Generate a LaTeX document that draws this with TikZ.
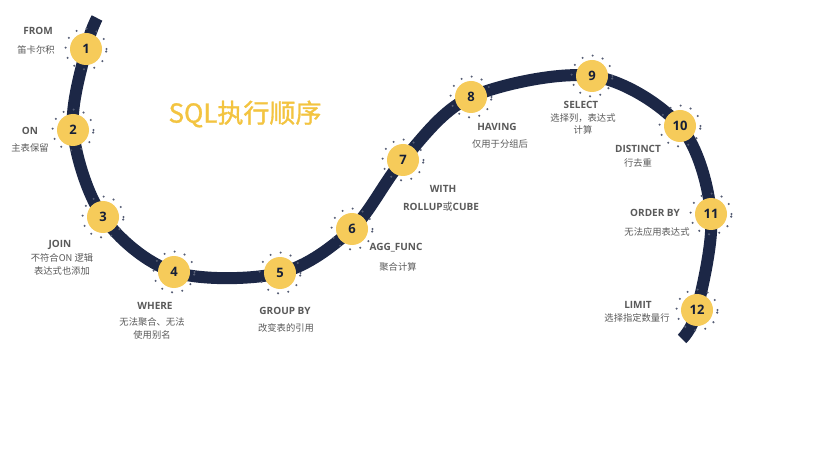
\documentclass[tikz,border=0pt]{standalone}
\usepackage{fontspec}
\setmainfont{Open Sans}
\newfontfamily\cjk{Noto Sans CJK SC}
\newfontfamily\cjkt[FakeBold=1.2]{Noto Sans CJK SC}
\definecolor{navy}{HTML}{1C2746}
\definecolor{gold}{HTML}{F6CB5A}
\definecolor{ttl}{HTML}{F3C440}
\definecolor{lbl}{HTML}{5A5A5A}
\tikzset{
  road/.style={draw=navy,line width=12pt},
  stepball/.style={circle,fill=gold,minimum size=32pt,inner sep=0pt,font=\bfseries\fontsize{13}{13}\selectfont,text=navy!80!black},
  ring/.style={draw=navy!75,line width=2.3pt,line cap=round,dash pattern=on 0pt off 10.5pt},
  en/.style={font=\bfseries\fontsize{10}{11}\selectfont,text=lbl,inner sep=0pt,align=center},
  zh/.style={font=\cjk\fontsize{9.3}{12.5}\selectfont,text=lbl,inner sep=0pt,align=center},
}
\begin{document}
\begin{tikzpicture}[x=1pt,y=-1pt]
\useasboundingbox (0,0) rectangle (826,462);
\fill[white] (0,0) rectangle (826,462);
\coordinate (s) at (97,18);
\coordinate (c1) at (86,49);
\coordinate (c2) at (73,130);
\coordinate (c3) at (103,217);
\coordinate (c4) at (174,272);
\coordinate (c5) at (280,273);
\coordinate (c6) at (352,229);
\coordinate (c7) at (403,160);
\coordinate (c8) at (471,97);
\coordinate (c9) at (592,76);
\coordinate (c10) at (680,126);
\coordinate (c11) at (711,214);
\coordinate (c12) at (697,310);
\coordinate (e) at (682,339);
\draw[road] plot[smooth,tension=0.55] coordinates {(s) (c1) (c2) (c3) (c4) (c5) (c6) (c7) (c8) (c9) (c10) (c11) (c12) (e)};
\foreach \i in {1,...,12}{
  \draw[ring] (c\i) circle[radius=20.5pt];
  \node[stepball] (n\i) at (c\i) {\i};
}
\node[font=\cjkt\fontsize{26}{26}\selectfont,text=ttl] (title) at (245,114) {SQL执行顺序};
% labels
\node[en] (l1a) at (38,31) {FROM};
\node[zh] (l1b) at (36,50) {笛卡尔积};
\node[en] (l2a) at (30,131) {ON};
\node[zh] (l2b) at (30,148) {主表保留};
\node[en] (l3a) at (60,245) {JOIN};
\node[zh] (l3b) at (62,264.5) {不符合ON 逻辑\\表达式也添加};
\node[en] (l4a) at (155,306) {WHERE};
\node[zh] (l4b) at (152,328.5) {无法聚合、无法\\使用别名};
\node[en] (l5a) at (285,311) {GROUP BY};
\node[zh] (l5b) at (286,328) {改变表的引用};
\node[en] (l6a) at (396,248) {AGG\_FUNC};
\node[zh] (l6b) at (398,267) {聚合计算};
\node[en] (l7a) at (443,189) {WITH};
\node[en] (l7b) at (441,207) {ROLLUP\textnormal{\cjk 或}CUBE};
\node[en] (l8a) at (497,127) {HAVING};
\node[zh] (l8b) at (500,144) {仅用于分组后};
\node[en] (l9a) at (581,105) {SELECT};
\node[zh] (l9b) at (583,124) {选择列，表达式\\计算};
\node[en] (l10a) at (638,149) {DISTINCT};
\node[zh] (l10b) at (638,163) {行去重};
\node[en] (l11a) at (655,213) {ORDER BY};
\node[zh] (l11b) at (657,232) {无法应用表达式};
\node[en] (l12a) at (638,305) {LIMIT};
\node[zh] (l12b) at (637,318) {选择指定数量行};
\end{tikzpicture}
\end{document}
